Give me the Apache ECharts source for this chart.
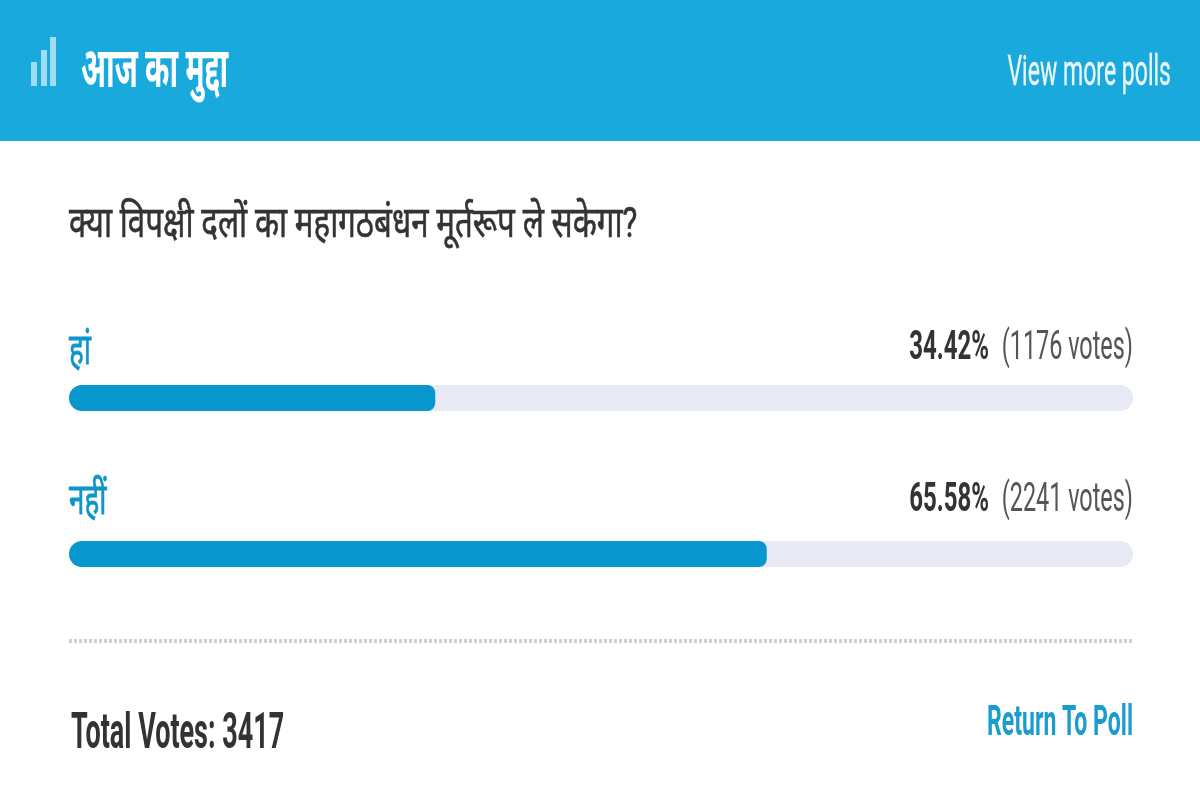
<!DOCTYPE html>
<html><head><meta charset="utf-8">
<style>html,body{margin:0;padding:0;background:#fff}#c{width:1200px;height:810px}</style>
<script src="https://cdn.jsdelivr.net/npm/echarts@6/dist/echarts.min.js"></script>
</head><body><div id="c"></div>
<script>
const categories = ['हां', 'नहीं'];
const percents = [34.42, 65.58];
const votes = [1176, 2241];
const headerTitle = 'आज का मुद्दा';
const question = 'क्या विपक्षी दलों का महागठबंधन मूर्तरूप ले सकेगा?';
const moreLink = 'View more polls';
const totalLabel = 'Total Votes: 3417';
const returnLink = 'Return To Poll';
const F = 'Roboto, "Noto Sans", "Liberation Sans", sans-serif';
function txt(x, y, s, size, color, o) {
  o = o || {};
  const style = {text:s, font:(o.w||'normal')+' '+size+'px '+F, fill:color, textAlign:o.a||'left', textVerticalAlign:'middle'};
  if (o.sw) { style.stroke = color; style.lineWidth = o.sw; }
  return {type:'text', x, y, scaleX:o.sx||0.85, scaleY:o.sy||1.2, z:10, style};
}
const graphic = [
  {type:'rect', shape:{x:0,y:0,width:1200,height:141}, style:{fill:'#19a9dd'}, z:1},
  {type:'rect', shape:{x:31,y:62,width:6,height:24}, style:{fill:'#a0dcf3'}, z:2},
  {type:'rect', shape:{x:41,y:50,width:6,height:36}, style:{fill:'#a0dcf3'}, z:2},
  {type:'rect', shape:{x:50,y:37,width:6,height:49}, style:{fill:'#a0dcf3'}, z:2},
  txt(81, 73, headerTitle, 40, '#fff', {w:'bold', sx:0.735, sy:1.4}),
  txt(1171, 75, moreLink, 32, '#e9f7fc', {a:'right', sx:0.72, sy:1.3, sw:0.3}),
  txt(69, 226, question, 34, '#333', {sx:0.92, sy:1.25, sw:0.5}),
  txt(69, 353, categories[0], 32, '#0f96c8', {sx:0.87, sy:1.35, sw:0.6}),
  txt(69, 503, categories[1], 32, '#0f96c8', {sx:0.87, sy:1.35, sw:0.6}),
  txt(71, 735, totalLabel, 36, '#333', {w:'bold', sx:0.75, sy:1.4}),
  txt(1133, 725, returnLink, 32, '#1a9ccf', {a:'right', w:'bold', sx:0.72, sy:1.3}),
  {type:'line', shape:{x1:69,y1:641,x2:1133,y2:641}, style:{stroke:'#cfcfcf',lineWidth:4,lineDash:[3,2]}, z:2}
];
[349, 501].forEach((y, i) => {
  graphic.push(txt(1133, y, '('+votes[i]+' votes)', 30, '#555', {a:'right', sx:0.78, sy:1.35}));
  graphic.push(txt(989, y, percents[i].toFixed(2)+'%', 30, '#333', {a:'right', w:'bold', sx:0.8, sy:1.35}));
});
const chart = echarts.init(document.getElementById('c'), null, {renderer:'canvas'});
chart.setOption({
  animation:false,
  grid:{left:69, right:67, top:320, height:312},
  xAxis:{type:'value', min:0, max:100, show:false},
  yAxis:{type:'category', inverse:true, data:categories, show:false},
  series:[{type:'bar', data:percents, barWidth:26, showBackground:true,
    backgroundStyle:{color:'#e7e9f5', borderRadius:13},
    itemStyle:{color:'#0796cd', borderRadius:[13,8,8,13]}}],
  graphic
});
</script></body></html>
